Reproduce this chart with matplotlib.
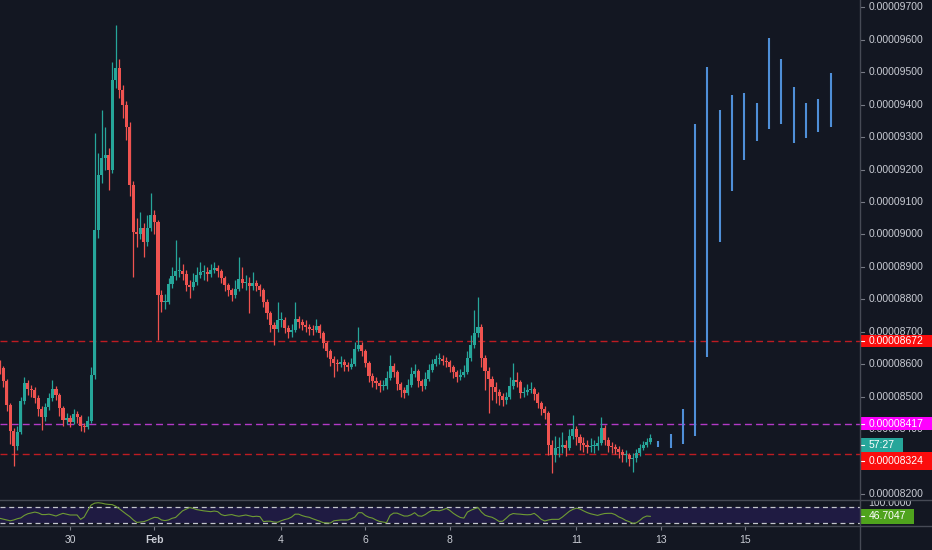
import numpy as np
import pandas as pd
import matplotlib
matplotlib.use("Agg")
import matplotlib.pyplot as plt
import matplotlib.dates as mdates
from matplotlib.patches import Rectangle
from matplotlib.lines import Line2D

plt.rcParams['font.family'] = ['Liberation Sans', 'DejaVu Sans']

# ---------------- data (prices in satoshi, 2h candles) ----------------
SAT = 1e-8
start_time = "2019-01-28 08:00"
first_open = 8600
close = [8588, 8548, 8474, 8394, 8348, 8391, 8487, 8542, 8524, 8521,
         8496, 8462, 8437, 8468, 8496, 8524, 8505, 8465, 8428, 8434,
         8422, 8447, 8437, 8410, 8407, 8425, 8567, 9014, 9183, 9236,
         9245, 9199, 9476, 9513, 9445, 9399, 9331, 9152, 9008, 9001,
         9020, 8977, 9020, 9060, 9038, 8813, 8792, 8792, 8847, 8872,
         8887, 8887, 8878, 8844, 8838, 8853, 8875, 8884, 8884, 8878,
         8890, 8897, 8887, 8866, 8844, 8829, 8813, 8832, 8863, 8850,
         8850, 8841, 8850, 8841, 8829, 8792, 8758, 8721, 8709, 8736,
         8736, 8712, 8699, 8706, 8739, 8730, 8721, 8715, 8709, 8706,
         8718, 8696, 8665, 8641, 8616, 8604, 8601, 8607, 8598, 8592,
         8601, 8647, 8659, 8641, 8604, 8564, 8548, 8542, 8533, 8533,
         8558, 8595, 8576, 8539, 8521, 8511, 8536, 8570, 8579, 8548,
         8533, 8554, 8582, 8601, 8616, 8616, 8610, 8607, 8592, 8576,
         8561, 8567, 8576, 8619, 8659, 8696, 8715, 8619, 8579, 8554,
         8530, 8514, 8502, 8490, 8499, 8533, 8551, 8545, 8511, 8514,
         8521, 8524, 8508, 8481, 8462, 8450, 8351, 8320, 8342, 8345,
         8351, 8342, 8379, 8401, 8376, 8357, 8351, 8345, 8348, 8348,
         8357, 8404, 8367, 8348, 8345, 8339, 8330, 8320, 8320, 8308,
         8311, 8326, 8342, 8351, 8360, 8373]
high = [8612, 8596, 8556, 8480, 8405, 8410, 8500, 8560, 8550, 8535,
        8530, 8505, 8470, 8480, 8510, 8552, 8532, 8512, 8472, 8450,
        8445, 8462, 8455, 8445, 8420, 8440, 8590, 9312, 9250, 9383,
        9330, 9265, 9530, 9645, 9540, 9460, 9410, 9345, 9165, 9050,
        9070, 9035, 9060, 9128, 9075, 9045, 8830, 8815, 8865, 8900,
        8983, 8930, 8910, 8890, 8860, 8880, 8900, 8915, 8905, 8900,
        8910, 8915, 8905, 8895, 8872, 8850, 8835, 8860, 8930, 8900,
        8875, 8870, 8885, 8860, 8848, 8835, 8800, 8765, 8730, 8792,
        8760, 8745, 8720, 8725, 8792, 8750, 8740, 8735, 8725, 8720,
        8740, 8725, 8702, 8672, 8648, 8625, 8615, 8625, 8615, 8608,
        8620, 8670, 8715, 8668, 8648, 8610, 8572, 8560, 8552, 8550,
        8580, 8628, 8605, 8582, 8545, 8530, 8555, 8590, 8600, 8585,
        8555, 8575, 8600, 8615, 8630, 8635, 8628, 8622, 8612, 8598,
        8582, 8585, 8598, 8640, 8690, 8767, 8807, 8725, 8630, 8590,
        8565, 8545, 8525, 8510, 8515, 8560, 8604, 8575, 8552, 8530,
        8540, 8545, 8530, 8515, 8488, 8470, 8455, 8365, 8380, 8375,
        8390, 8365, 8400, 8444, 8410, 8385, 8375, 8368, 8372, 8365,
        8380, 8437, 8412, 8375, 8360, 8355, 8348, 8338, 8335, 8328,
        8325, 8340, 8355, 8362, 8372, 8385]
low = [8570, 8530, 8455, 8355, 8285, 8335, 8385, 8478, 8505, 8500,
       8480, 8440, 8398, 8425, 8460, 8488, 8490, 8440, 8410, 8415,
       8408, 8415, 8420, 8395, 8390, 8400, 8418, 8555, 8990, 9160,
       9200, 9137, 9190, 9450, 9420, 9360, 9290, 9120, 8869, 8960,
       8985, 8930, 8965, 9010, 9000, 8675, 8760, 8770, 8785, 8835,
       8860, 8870, 8860, 8825, 8804, 8830, 8845, 8865, 8860, 8855,
       8870, 8880, 8870, 8850, 8825, 8810, 8795, 8805, 8825, 8835,
       8830, 8758, 8830, 8825, 8810, 8775, 8740, 8700, 8659, 8700,
       8715, 8695, 8680, 8685, 8700, 8712, 8705, 8700, 8690, 8690,
       8698, 8680, 8650, 8622, 8595, 8561, 8580, 8590, 8580, 8578,
       8585, 8595, 8640, 8625, 8590, 8545, 8530, 8525, 8515, 8520,
       8525, 8550, 8560, 8520, 8500, 8495, 8505, 8530, 8560, 8530,
       8518, 8525, 8548, 8575, 8595, 8600, 8598, 8592, 8575, 8558,
       8545, 8552, 8560, 8570, 8610, 8650, 8685, 8590, 8520, 8450,
       8490, 8480, 8475, 8470, 8478, 8492, 8525, 8530, 8495, 8498,
       8505, 8510, 8490, 8465, 8445, 8430, 8320, 8265, 8300, 8315,
       8325, 8318, 8335, 8370, 8350, 8335, 8330, 8325, 8330, 8328,
       8335, 8350, 8350, 8330, 8328, 8322, 8312, 8300, 8300, 8285,
       8268, 8300, 8318, 8335, 8345, 8355]
rsi = [42, 40, 38, 36, 38, 41, 43, 49, 53, 55,
       57, 55, 51, 51, 52, 50, 47.5, 51, 54, 52,
       50, 50, 50, 39.5, 45, 60, 74, 78.5, 79.5, 78.5,
       76.5, 75.5, 75, 71, 65, 58.5, 52, 46, 38, 32,
       33, 34, 37, 41, 44.5, 43.5, 38, 36.5, 38, 42,
       44, 52, 60, 64, 68, 66, 63, 61.5, 60, 59,
       58, 59.5, 58, 51, 48.5, 50, 51, 48.5, 47, 48.5,
       50, 48, 46, 47, 46, 34, 35, 35, 33, 32.5,
       36, 39, 41, 45, 52, 52, 48.5, 46, 44.5, 41,
       38, 35, 31.5, 31, 30.5, 36, 37, 38, 38, 38,
       41, 45, 55.5, 55.5, 48.5, 44.5, 42.5, 38, 34.5, 33,
       31.5, 49, 54.5, 54.5, 51, 47.5, 47.5, 50.5, 55.5, 48,
       47, 51, 57, 61.5, 61, 60, 62.5, 66, 61, 54,
       48.5, 44, 42.5, 57, 61.5, 65, 68, 57, 49.5, 46.5,
       44.5, 40, 34.5, 35, 42, 50, 53.5, 52.5, 52, 51,
       50.5, 51, 54, 47.5, 39.5, 35.5, 38, 39.5, 39.5, 39.5,
       45, 52, 59, 63.6, 66.5, 64.5, 60, 56, 53, 51,
       49, 51.5, 53.5, 54, 54, 51, 45.5, 42, 37, 34,
       30, 31, 37, 44, 47.5, 46.7047]
rsi_last_label = "46.7047"

proj_start = "2019-02-12 22:30"
proj_high = [8364, 8385, 8462, 9340, 9515, 9384, 9431, 9437, 9406, 9604, 9540, 9455, 9406, 9417, 9497]
proj_low = [8344, 8342, 8354, 8380, 8623, 8978, 9134, 9229, 9287, 9324, 9340, 9283, 9298, 9315, 9332]

red_levels = [8672, 8324]
magenta_level = 8417
price_ticks = list(range(8200, 9701, 100))
date_ticks = ["2019-01-30", "2019-02-01", "2019-02-04", "2019-02-06",
              "2019-02-08", "2019-02-11", "2019-02-13", "2019-02-15"]
date_labels = ["30", "Feb", "4", "6", "8", "11", "13", "15"]
countdown = "57:27"
rsi_levels = [70, 30]
rsi_top_label = "100.0000"

x_limits = ("2019-01-28 08:10", "2019-02-17 17:16")
y_limits = (8184.7, 9722.5)
rsi_limits = (24.2, 83.7)

# ---------------- style ----------------
BG = "#131722"
UP = "#26a69a"
DOWN = "#ef5350"
TXT = "#c9ccd4"
SEP = "#464a55"
FS = 7.5
W, H = 932, 550

fig = plt.figure(figsize=(W / 100, H / 100), dpi=100, facecolor=BG)


def fx(px):
    return px / W


def fy(py):
    return 1 - py / H


main_bot = 499.0
rsi_top, rsi_bot = 501.0, 525.7
axis_x = 860.0

ax = fig.add_axes([0, fy(main_bot), fx(axis_x), main_bot / H])
axr = fig.add_axes([fx(axis_x), fy(main_bot), 1 - fx(axis_x), main_bot / H], sharey=ax)
axi = fig.add_axes([0, fy(rsi_bot), fx(axis_x), (rsi_bot - rsi_top) / H], sharex=ax)
axir = fig.add_axes([fx(axis_x), fy(rsi_bot), 1 - fx(axis_x), (rsi_bot - rsi_top) / H], sharey=axi)
for a in (ax, axr, axi, axir):
    a.set_facecolor(BG)

# ---------------- candles ----------------
c = np.array(close, float) * SAT
o = np.r_[first_open, close[:-1]].astype(float) * SAT
hi = np.maximum(np.array(high, float) * SAT, np.maximum(o, c))
lo = np.minimum(np.array(low, float) * SAT, np.minimum(o, c))
t = mdates.date2num(pd.date_range(start_time, periods=len(close), freq="2h").to_pydatetime())
up = c >= o
cols = np.where(up, UP, DOWN)

ax.vlines(t, lo, hi, colors=cols, lw=0.9, zorder=3)
body_h = np.maximum(np.abs(c - o), 3.0 * SAT)
ax.bar(t, body_h, bottom=np.minimum(o, c), width=2 / 24 * 0.88, color=cols,
       edgecolor="none", zorder=4)

# projection bars
tp = mdates.date2num(pd.date_range(proj_start, periods=len(proj_high), freq="7h").to_pydatetime())
ax.vlines(tp, np.array(proj_low) * SAT, np.array(proj_high) * SAT, colors="#4f8fd8", lw=1.5, zorder=4)

# levels
for v in red_levels:
    ax.axhline(v * SAT, color="#bd1c22", lw=1.0, dashes=(5, 3), zorder=2)
ax.axhline(magenta_level * SAT, color="#b23ac6", lw=1.0, dashes=(5, 3), zorder=2)

xl = mdates.date2num([pd.Timestamp(x_limits[0]).to_pydatetime(), pd.Timestamp(x_limits[1]).to_pydatetime()])
ax.set_xlim(xl[0], xl[1])
ax.set_ylim(y_limits[0] * SAT, y_limits[1] * SAT)
ax.axis("off")

# ---------------- right price axis ----------------
axr.set_xlim(0, 72)
axr.axis("off")
for v in price_ticks:
    axr.plot([0, 4], [v * SAT, v * SAT], color="#787b86", lw=0.8, zorder=2)
    axr.text(8.3, v * SAT, f"{v * SAT:.8f}", color=TXT, fontsize=FS, va="center", ha="left", zorder=3)

upx = (y_limits[1] - y_limits[0]) * SAT / main_bot  # price per pixel


def label_box(a, top, h, w, color, text, tcolor="white"):
    a.add_patch(Rectangle((0, top - h), w, h, facecolor=color, edgecolor="none", zorder=5))
    a.plot([0, 4], [top - h / 2, top - h / 2], color=tcolor, lw=0.8, zorder=6)
    a.text(8.3, top - h / 2, text, color=tcolor, fontsize=FS, va="center", ha="left", zorder=7)


label_box(axr, red_levels[0] * SAT + 6.25 * upx, 12.5 * upx, 73, "#fb0d0d", f"{red_levels[0] * SAT:.8f}")
label_box(axr, magenta_level * SAT + 6.5 * upx, 13 * upx, 73, "#ff00ff", f"{magenta_level * SAT:.8f}")
teal_top = c[-1]
label_box(axr, teal_top, 14 * upx, 43, UP, countdown)
label_box(axr, teal_top - 14.5 * upx, 18 * upx, 73, "#fb0d0d", f"{red_levels[1] * SAT:.8f}")

# ---------------- RSI pane ----------------
axi.axhspan(rsi_levels[1], rsi_levels[0], color="#1f1b42", lw=0, zorder=1)
for lv in rsi_levels:
    axi.axhline(lv, color="#c3c5cc", lw=0.9, dashes=(4, 3), zorder=2)
axi.plot(t, rsi, color="#6f9b34", lw=0.8, zorder=3)
axi.set_ylim(*rsi_limits)
for s in axi.spines.values():
    s.set_visible(False)
axi.set_yticks([])
dt = mdates.date2num(pd.to_datetime(date_ticks).to_pydatetime())
axi.set_xticks(dt)
axi.set_xticklabels(date_labels)
axi.tick_params(axis="x", length=3, width=0.8, color="#787b86", labelcolor=TXT,
                labelsize=FS, pad=4)
axi.get_xticklabels()[1].set_fontweight("bold")

axir.set_xlim(0, 72)
axir.axis("off")
axir.text(8.3, 79.5, rsi_top_label, color=TXT, fontsize=FS, va="center", ha="left", clip_on=True)
rpx = (rsi_limits[1] - rsi_limits[0]) / (rsi_bot - rsi_top)
label_box(axir, float(rsi[-1]) + 7.5 * rpx, 15 * rpx, 54, "#4fa31d", rsi_last_label)

# ---------------- separators ----------------
fig.add_artist(Line2D([0, 1], [fy(500.2), fy(500.2)], color=SEP, lw=1.0, transform=fig.transFigure))
fig.add_artist(Line2D([0, 1], [fy(526.0), fy(526.0)], color=SEP, lw=1.0, transform=fig.transFigure))
fig.add_artist(Line2D([fx(axis_x), fx(axis_x)], [0, 1], color=SEP, lw=1.0, transform=fig.transFigure))

fig.savefig("out.png", dpi=100, facecolor=BG)
